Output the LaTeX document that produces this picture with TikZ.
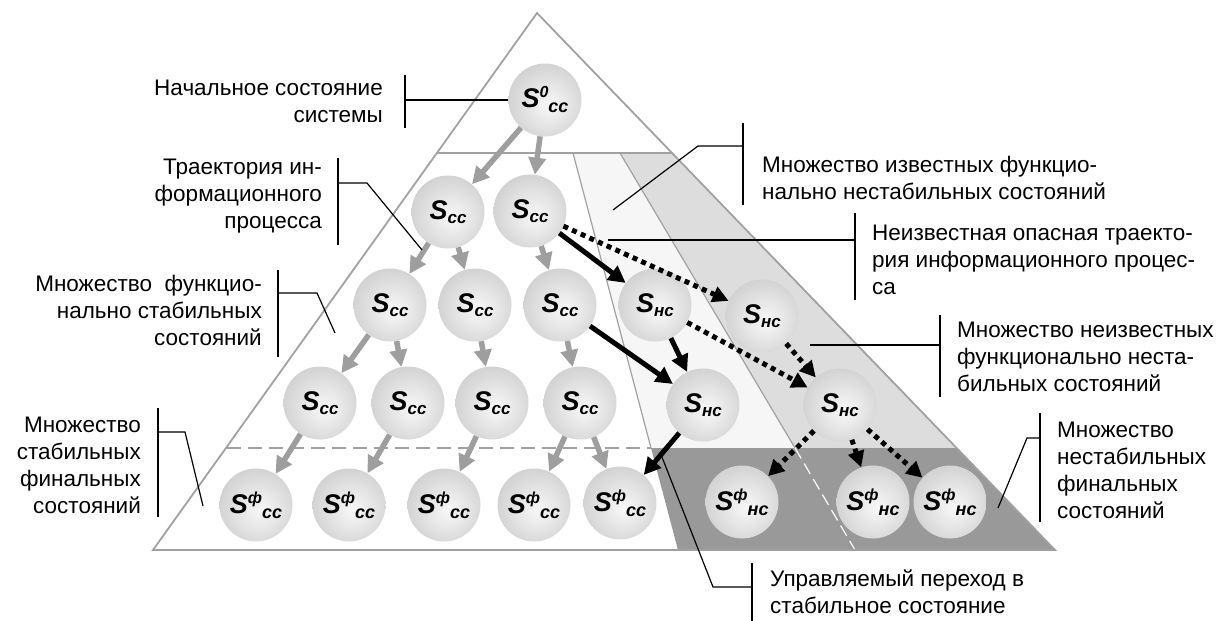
\documentclass[tikz,border=0pt]{standalone}
\usepackage{fontspec}
\setmainfont{Liberation Sans}
\usepackage{xcolor}
\usetikzlibrary{arrows.meta, positioning}

\definecolor{stripA}{gray}{0.965}
\definecolor{stripB}{gray}{0.865}
\definecolor{stripC}{gray}{0.60}
\definecolor{edgegray}{gray}{0.63}
\definecolor{arrowgray}{gray}{0.62}

\pgfdeclareradialshading{sphere}{\pgfpoint{3bp}{-4bp}}{%
  rgb(0bp)=(0.97,0.97,0.97); rgb(10bp)=(0.92,0.92,0.92); rgb(32bp)=(0.80,0.80,0.80); rgb(52bp)=(0.69,0.69,0.69); rgb(60bp)=(0.69,0.69,0.69)}

\newcommand{\Sst}[1]{{\fontsize{27}{27}\selectfont\bfseries\itshape S\raisebox{-4pt}{\fontsize{17}{17}\selectfont #1}}}
\newcommand{\Sfin}[2]{{\fontsize{27}{27}\selectfont\bfseries\itshape S\raisebox{10pt}{\fontsize{16}{16}\selectfont #1}\raisebox{-5pt}{\fontsize{18}{18}\selectfont #2}}}

\begin{document}
\begin{tikzpicture}[
    x=1pt, y=-1pt,
    ball/.style={circle, minimum size=73pt, inner sep=0pt, shading=sphere},
    grayarr/.style={draw=arrowgray, line width=5.5pt, -{Triangle[length=17pt, width=17pt]}},
    blackarr/.style={draw=black, line width=5pt, -{Triangle[length=17pt, width=17pt]}},
    dotarr/.style={draw=black, line width=5pt, dash pattern=on 5pt off 4.5pt, -{Triangle[length=16pt, width=16pt]}},
    callout/.style={draw=black, line width=1.2pt},
    lbl/.style={inner sep=0pt, font=\fontsize{22.5}{27}\selectfont}
]
    \useasboundingbox (0,0) rectangle (1219,621);

    % Strips inside the pyramid
    \fill[stripA] (573,153) -- (620,153) -- (795,448) -- (651,448) -- cycle;
    \fill[stripB] (620,153) -- (672,153) -- (957,448) -- (795,448) -- cycle;
    \fill[stripC] (651,448) -- (957,448) -- (1055,550) -- (678,550) -- cycle;
    \draw[edgegray, line width=1.2pt] (573,153) -- (651,448);
    \draw[edgegray, line width=1.2pt] (620,153) -- (795,448);
    \draw[white, line width=1.2pt, dash pattern=on 12pt off 6pt] (795,448) -- (855,550);
    \draw[edgegray, line width=1.5pt] (437,153) -- (672,153);
    \draw[edgegray, line width=1.5pt, dash pattern=on 14pt off 7pt] (227,448) -- (651,448);

    % Pyramid outline
    \draw[edgegray, line width=1.8pt] (537,13) -- (1055,550) -- (153,550) -- cycle;

    % States
    \node[ball] (s0) at (545,100) {\Sfin{0}{сс}};

    \node[ball] (a1) at (448,212) {\Sst{сс}};
    \node[ball] (a2) at (530,211) {\Sst{сс}};

    \node[ball] (b1) at (390,305) {\Sst{сс}};
    \node[ball] (b2) at (475,305) {\Sst{сс}};
    \node[ball] (b3) at (560,305) {\Sst{сс}};
    \node[ball] (bn1) at (655,305) {\Sst{нс}};
    \node[ball] (bn2) at (762,316) {\Sst{нс}};

    \node[ball] (c1) at (320,403) {\Sst{сс}};
    \node[ball] (c2) at (408,403) {\Sst{сс}};
    \node[ball] (c3) at (492,403) {\Sst{сс}};
    \node[ball] (c4) at (580,403) {\Sst{сс}};
    \node[ball] (cn1) at (703,405) {\Sst{нс}};
    \node[ball] (cn2) at (840,405) {\Sst{нс}};

    \node[ball] (f1) at (256,505) {\Sfin{ф}{сс}};
    \node[ball] (f2) at (349,505) {\Sfin{ф}{сс}};
    \node[ball] (f3) at (444,505) {\Sfin{ф}{сс}};
    \node[ball] (f4) at (534,505) {\Sfin{ф}{сс}};
    \node[ball] (f5) at (620,503) {\Sfin{ф}{сс}};

    \node[ball] (g1) at (742,502) {\Sfin{ф}{нс}};
    \node[ball] (g2) at (873,502) {\Sfin{ф}{нс}};
    \node[ball] (g3) at (950,502) {\Sfin{ф}{нс}};

    % Stable transitions
    \draw[grayarr] (s0) -- (a1);
    \draw[grayarr] (s0) -- (a2);
    \draw[grayarr] (a1) -- (b1);
    \draw[grayarr] (a1) -- (b2);
    \draw[grayarr] (a2) -- (b3);
    \draw[grayarr] (b1) -- (c1);
    \draw[grayarr] (b1) -- (c2);
    \draw[grayarr] (b2) -- (c3);
    \draw[grayarr] (b3) -- (c4);
    \draw[grayarr] (c1) -- (f1);
    \draw[grayarr] (c2) -- (f2);
    \draw[grayarr] (c3) -- (f3);
    \draw[grayarr] (c4) -- (f4);
    \draw[grayarr] (c4) -- (f5);

    % Known unstable transitions
    \draw[blackarr] (a2) -- (bn1);
    \draw[blackarr] (b3) -- (cn1);
    \draw[blackarr] (bn1) -- (cn1);
    \draw[blackarr] (cn1) -- (f5);

    % Unknown dangerous trajectory
    \draw[dotarr] (a2) -- (bn2);
    \draw[dotarr] (bn1) -- (cn2);
    \draw[dotarr] (bn2) -- (cn2);
    \draw[dotarr] (cn2) -- (g1);
    \draw[dotarr] (cn2) -- (g2);
    \draw[dotarr] (cn2) -- (g3);

    % Left labels
    \node[lbl, align=right, anchor=east] (initlbl) at (383,101) {Начальное состояние\\системы};
    \node[lbl, align=right, anchor=east] (traclbl) at (322,196) {Траектория ин-\\формационного\\процесса};
    \node[lbl, align=right, anchor=east] (stablbl) at (262,310) {Множество~ функцио-\\нально стабильных\\состояний};
    \node[lbl, align=right, anchor=east] (finslbl) at (141,465) {Множество\\стабильных\\финальных\\состояний};

    % Right labels
    \node[lbl, align=left, anchor=west] (knownlbl) at (762,178) {Множество известных функцио-\\нально нестабильных состояний};
    \node[lbl, align=left, anchor=west] (danglbl) at (872,260) {Неизвестная опасная траекто-\\рия информационного процес-\\са};
    \node[lbl, align=left, anchor=west] (unknlbl) at (957,357) {Множество неизвестных\\функционально неста-\\бильных состояний};
    \node[lbl, align=left, anchor=west] (finulbl) at (1057,470) {Множество\\нестабильных\\финальных\\состояний};
    \node[lbl, align=left, anchor=west] (ctrllbl) at (770,592) {Управляемый переход в\\стабильное состояние};

    % Callout brackets
    \coordinate (p1) at (405,100);
    \coordinate (p2a) at (338,183); \coordinate (p2b) at (367,183); \coordinate (p2c) at (422,250);
    \coordinate (p3a) at (278,293); \coordinate (p3b) at (317,293); \coordinate (p3c) at (335,333);
    \coordinate (p4a) at (158,432); \coordinate (p4b) at (185,432); \coordinate (p4c) at (203,506);
    \coordinate (p5a) at (743,146); \coordinate (p5b) at (698,146); \coordinate (p5c) at (613,210);
    \coordinate (p6a) at (855,240); \coordinate (p6b) at (608,240);
    \coordinate (p7a) at (940,345); \coordinate (p7b) at (810,345);
    \coordinate (p8a) at (1040,438); \coordinate (p8b) at (1027,438); \coordinate (p8c) at (998,508);
    \coordinate (p9a) at (752,587); \coordinate (p9b) at (713,587); \coordinate (p9c) at (660,452);

    \draw[callout] (405,75) -- (405,128);
    \draw[callout] (p1) -- (s0.west);
    \draw[callout] (338,158) -- (338,245);
    \draw[callout] (p2a) -- (p2b) -- (p2c);
    \draw[callout] (278,270) -- (278,357);
    \draw[callout] (p3a) -- (p3b) -- (p3c);
    \draw[callout] (158,408) -- (158,517);
    \draw[callout] (p4a) -- (p4b) -- (p4c);
    \draw[callout] (743,123) -- (743,205);
    \draw[callout] (p5a) -- (p5b) -- (p5c);
    \draw[callout] (855,213) -- (855,300);
    \draw[callout] (p6a) -- (p6b);
    \draw[callout] (940,315) -- (940,397);
    \draw[callout] (p7a) -- (p7b);
    \draw[callout] (1040,413) -- (1040,522);
    \draw[callout] (p8a) -- (p8b) -- (p8c);
    \draw[callout] (752,563) -- (752,621);
    \draw[callout] (p9a) -- (p9b) -- (p9c);
\end{tikzpicture}
\end{document}
